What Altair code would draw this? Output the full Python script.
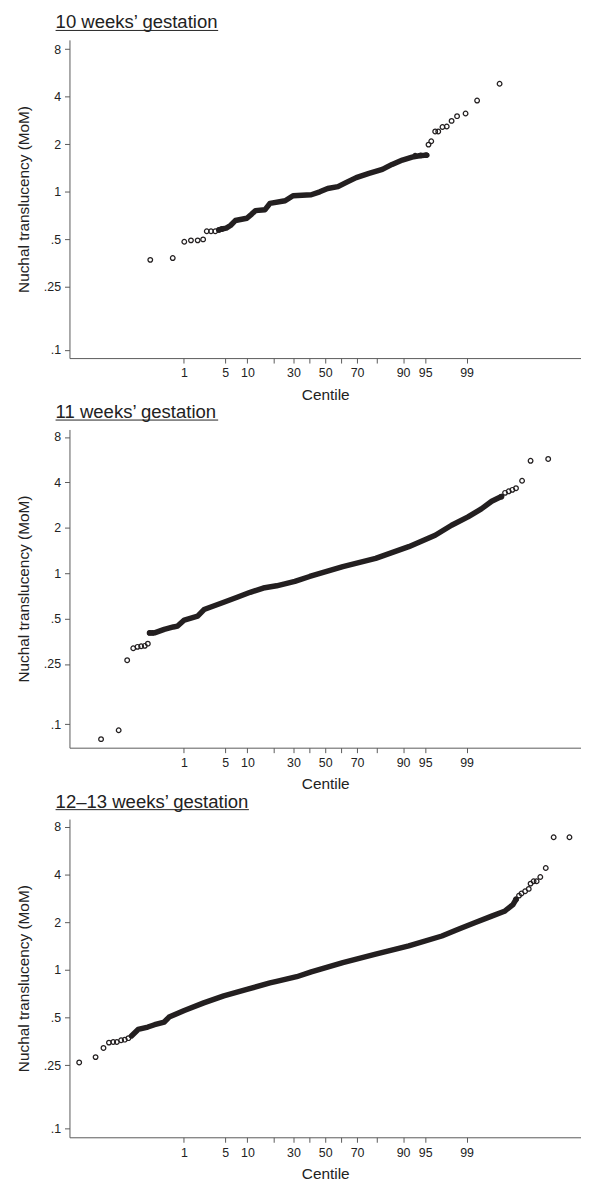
import altair as alt
import pandas as pd
from statistics import NormalDist

FONT = "Liberation Sans"
INK = "#231f20"
AXIS = "#5a5a5a"

# ---- panel titles ----
titles = ["10 weeks\u2019 gestation", "11 weeks\u2019 gestation", "12\u201313 weeks\u2019 gestation"]
underline_w = [164, 164, 195]

# ---- axis ticks ----
centile_ticks = [1, 5, 10, 20, 30, 40, 50, 60, 70, 80, 90, 95, 99]
unlabelled_centiles = [20, 40, 60, 80]
y_ticks = [0.1, 0.25, 0.5, 1, 2, 4, 8]
y_domains = [[0.0887, 9.15], [0.0697, 8.97], [0.0876, 8.94]]

# ---- panel 1 (10 weeks): dense band (normal score, MoM) ----
p1_dense_z = [-1.75, -1.70, -1.63, -1.56, -1.48, -1.29, -1.21, -1.15, -0.99, -0.91,
              -0.66, -0.53, -0.23, -0.09, 0.04, 0.21, 0.34, 0.51, 0.72, 0.94,
              1.10, 1.27, 1.43, 1.55, 1.675]
p1_dense_v = [0.574, 0.582, 0.589, 0.612, 0.658, 0.680, 0.723, 0.760, 0.771, 0.845,
              0.878, 0.944, 0.958, 1.000, 1.049, 1.079, 1.144, 1.230, 1.308, 1.386,
              1.490, 1.588, 1.658, 1.690, 1.706]
p1_pts_z = [-2.88, -2.51, -2.32, -2.21, -2.10, -2.01, -1.95, -1.88, -1.81, -1.75, -1.70,
            1.48, 1.57, 1.66, 1.70, 1.745, 1.81, 1.86, 1.93, 2.00, 2.08, 2.17, 2.31, 2.50, 2.87]
p1_pts_v = [0.371, 0.381, 0.483, 0.493, 0.493, 0.500, 0.563, 0.563, 0.563, 0.574, 0.582,
            1.690, 1.700, 1.706, 1.99, 2.09, 2.41, 2.41, 2.57, 2.59, 2.81, 3.01, 3.13, 3.78, 4.83]

# ---- panel 2 (11 weeks) ----
p2_dense_z = [-2.89, -2.81, -2.65, -2.50, -2.43, -2.32, -2.10, -1.995, -1.67, -1.45,
              -1.235, -1.02, -0.80, -0.50, -0.256, 0.29, 0.83, 1.375, 1.81, 2.08,
              2.35, 2.57, 2.74, 2.90]
p2_dense_v = [0.402, 0.402, 0.424, 0.440, 0.446, 0.489, 0.519, 0.574, 0.642, 0.692,
              0.747, 0.797, 0.825, 0.883, 0.951, 1.107, 1.255, 1.500, 1.785, 2.08,
              2.36, 2.67, 3.00, 3.22]
p2_pts_z = [-3.69, -3.40, -3.26, -3.16, -3.09, -3.03, -2.97, -2.92, -2.89, -2.84,
            2.90, 2.96, 3.02, 3.08, 3.14, 3.24, 3.38, 3.67]
p2_pts_v = [0.0794, 0.091, 0.265, 0.318, 0.325, 0.328, 0.330, 0.341, 0.402, 0.402,
            3.22, 3.41, 3.49, 3.57, 3.66, 4.10, 5.56, 5.72]

# ---- panel 3 (12-13 weeks) ----
p3_dense_z = [-3.19, -3.08, -2.92, -2.81, -2.65, -2.57, -2.32, -2.00, -1.67, -1.29,
              -0.91, -0.80, -0.47, -0.23, 0.29, 0.83, 1.375, 1.92, 2.19, 2.46,
              2.74, 2.95, 3.09, 3.14]
p3_dense_v = [0.382, 0.420, 0.435, 0.450, 0.468, 0.503, 0.553, 0.618, 0.684, 0.752,
              0.826, 0.845, 0.904, 0.970, 1.110, 1.255, 1.414, 1.634, 1.800, 1.983,
              2.180, 2.340, 2.580, 2.780]
p3_pts_z = [-4.05, -3.78, -3.65, -3.56, -3.49, -3.43, -3.36, -3.30, -3.24,
            3.14, 3.19, 3.23, 3.29, 3.35, 3.38, 3.43, 3.48, 3.54, 3.63, 3.76, 4.02]
p3_pts_v = [0.260, 0.281, 0.321, 0.347, 0.350, 0.350, 0.359, 0.362, 0.370,
            2.78, 2.94, 3.03, 3.13, 3.24, 3.50, 3.62, 3.62, 3.85, 4.39, 6.86, 6.86]

W, H = 516, 321
tick_z = [NormalDist().inv_cdf(c / 100) for c in centile_ticks]
x_label_expr = ("indexof(%s, round(cumulativeNormal(datum.value)*100)) >= 0 ? '' : "
                "'' + round(cumulativeNormal(datum.value)*100)") % str(unlabelled_centiles)


def panel(title, ul_w, ydom, dz, dv, pz, pv):
    x = alt.X("z:Q",
              scale=alt.Scale(domain=[-4.21, 4.21], nice=False, zero=False),
              axis=alt.Axis(values=tick_z, labelExpr=x_label_expr, grid=False,
                            title="Centile", titleX=W / 2, titleY=41.5,
                            titleAlign="center", titleBaseline="alphabetic",
                            titleFontSize=15.5, titleFontWeight="normal",
                            labelFontSize=12.5, labelPadding=4, tickSize=5,
                            domainColor=AXIS, tickColor=AXIS, labelColor="#222",
                            titleColor="#222", labelFont=FONT, titleFont=FONT,
                            labelFlush=False, labelOverlap=False))
    y = alt.Y("v:Q",
              scale=alt.Scale(type="log", domain=ydom, nice=False, zero=False),
              axis=alt.Axis(values=y_ticks,
                            labelExpr="replace(format(datum.value, '~g'), '0.', '.')",
                            grid=False, title="Nuchal translucency (MoM)",
                            titleX=-41, titleY=H / 2, titleAngle=-90,
                            titleAlign="center", titleBaseline="alphabetic",
                            titleFontSize=15.5, titleFontWeight="normal",
                            labelFontSize=12.5, labelPadding=4, tickSize=5,
                            domainColor=AXIS, tickColor=AXIS, labelColor="#222",
                            titleColor="#222", labelFont=FONT, titleFont=FONT,
                            labelFlush=False, labelOverlap=False))
    dense = pd.DataFrame({"z": dz, "v": dv})
    pts = pd.DataFrame({"z": pz, "v": pv})
    band = alt.Chart(dense).mark_line(color=INK, strokeWidth=5.5, strokeCap="round",
                                      strokeJoin="round").encode(x=x, y=y)
    circles = alt.Chart(pts).mark_point(shape="circle", filled=False, size=22,
                                        strokeWidth=1.25, color=INK, opacity=1).encode(x=x, y=y)
    tdf = pd.DataFrame({"t": [title]})
    ttl = alt.Chart(tdf).mark_text(align="left", baseline="alphabetic", fontSize=18.7,
                                   font=FONT, color="#222").encode(
        text="t:N", x=alt.value(-14), y=alt.value(-11.5))
    ul = alt.Chart(tdf).mark_rule(color="#222", strokeWidth=1).encode(
        x=alt.value(-14), x2=alt.value(-14 + ul_w), y=alt.value(-9.5))
    return alt.layer(band, circles, ttl, ul).properties(width=W, height=H)


panels = [
    panel(titles[0], underline_w[0], y_domains[0], p1_dense_z, p1_dense_v, p1_pts_z, p1_pts_v),
    panel(titles[1], underline_w[1], y_domains[1], p2_dense_z, p2_dense_v, p2_pts_z, p2_pts_v),
    panel(titles[2], underline_w[2], y_domains[2], p3_dense_z, p3_dense_v, p3_pts_z, p3_pts_v),
]

chart = alt.vconcat(*panels, spacing=72, bounds="flush").properties(
    padding={"left": 9, "top": 0, "right": 0, "bottom": 0},
    background="white",
).configure_view(stroke=None)

chart.save("out.html", embed_options={"renderer": "svg", "actions": False})
